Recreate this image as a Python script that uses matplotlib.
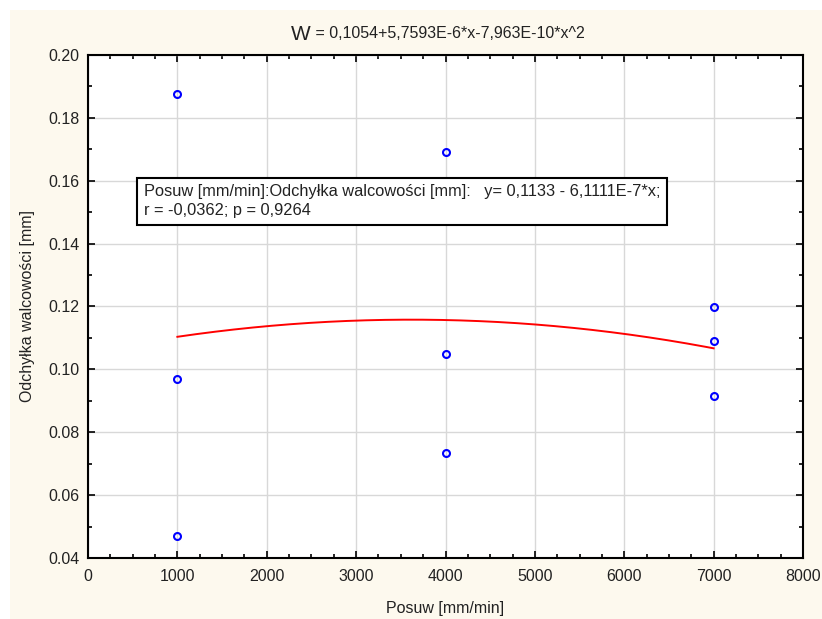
import numpy as np
import matplotlib
matplotlib.use("Agg")
import matplotlib.pyplot as plt
from matplotlib.patches import Rectangle
from matplotlib.ticker import MultipleLocator

plt.rcParams["font.family"] = ["Liberation Sans", "DejaVu Sans"]

# measured points
posuw = [1000, 1000, 1000, 4000, 4000, 4000, 7000, 7000, 7000]
odchylka = [0.1875, 0.097, 0.047, 0.169, 0.105, 0.0735, 0.120, 0.109, 0.0915]

# fitted quadratic from the title: W = a + b*x + c*x^2
coef = [0.1054, 5.7593e-6, -7.963e-10]
fit_range = [1000, 7000]

title_rest = " = 0,1054+5,7593E-6*x-7,963E-10*x^2"
box_text = ("Posuw [mm/min]:Odchyłka walcowości [mm]:   y= 0,1133 - 6,1111E-7*x;\n"
            "r = -0,0362; p = 0,9264")

fs = 11.5

fig = plt.figure(figsize=(8.22, 6.19), dpi=100)
fig.patch.set_facecolor("white")
# cream panel behind everything
fig.patches.append(Rectangle((10 / 822, 0), 1, 1 - 10 / 619, transform=fig.transFigure,
                             facecolor="#fdf9ee", edgecolor="none", zorder=-10))

ax = fig.add_axes([88 / 822, 1 - 558 / 619, 715 / 822, 503 / 619])
ax.set_facecolor("white")

xs = np.linspace(fit_range[0], fit_range[1], 200)
ax.plot(xs, coef[0] + coef[1] * xs + coef[2] * xs ** 2, color="#ff0000", lw=1.4, zorder=3)
ax.plot(posuw, odchylka, "o", ms=5, mfc="none", mec="#0000ff", mew=1.5, zorder=4)

ax.set_xlim(0, 8000)
ax.set_ylim(0.04, 0.20)
ax.xaxis.set_major_locator(MultipleLocator(1000))
ax.xaxis.set_minor_locator(MultipleLocator(250))
ax.yaxis.set_major_locator(MultipleLocator(0.02))
ax.yaxis.set_minor_locator(MultipleLocator(0.01))
ax.yaxis.set_major_formatter(plt.FormatStrFormatter("%.2f"))
ax.grid(True, which="major", color="#d8d8d8", lw=1)
ax.set_axisbelow(True)
ax.tick_params(which="both", direction="in", top=True, right=True, labelsize=fs,
               colors="black", labelcolor="#222222")
ax.tick_params(which="major", length=5, width=1.2)
ax.tick_params(which="minor", length=3, width=1.2)
ax.tick_params(axis="x", pad=8)
ax.tick_params(axis="y", pad=6)
for s in ax.spines.values():
    s.set_linewidth(1.5)

ax.set_xlabel("Posuw [mm/min]", fontsize=fs, labelpad=12, color="#222222")
ax.set_ylabel("Odchyłka walcowości [mm]", fontsize=fs, labelpad=10, color="#222222")

t = fig.text(448 / 822, 1 - 34 / 619, title_rest, ha="center", va="center",
             fontsize=fs, color="#222222")
ax.annotate("W", xy=(0, 0.5), xycoords=t, ha="right", va="center",
            fontsize=15, color="#222222")

ax.text(0.078, 0.709, box_text, transform=ax.transAxes, fontsize=11.8, color="#222222",
        va="center", ha="left", linespacing=1.35, zorder=5,
        bbox=dict(boxstyle="square,pad=0.4", facecolor="white", edgecolor="black", lw=1.5))

fig.savefig("out.png", dpi=100)
